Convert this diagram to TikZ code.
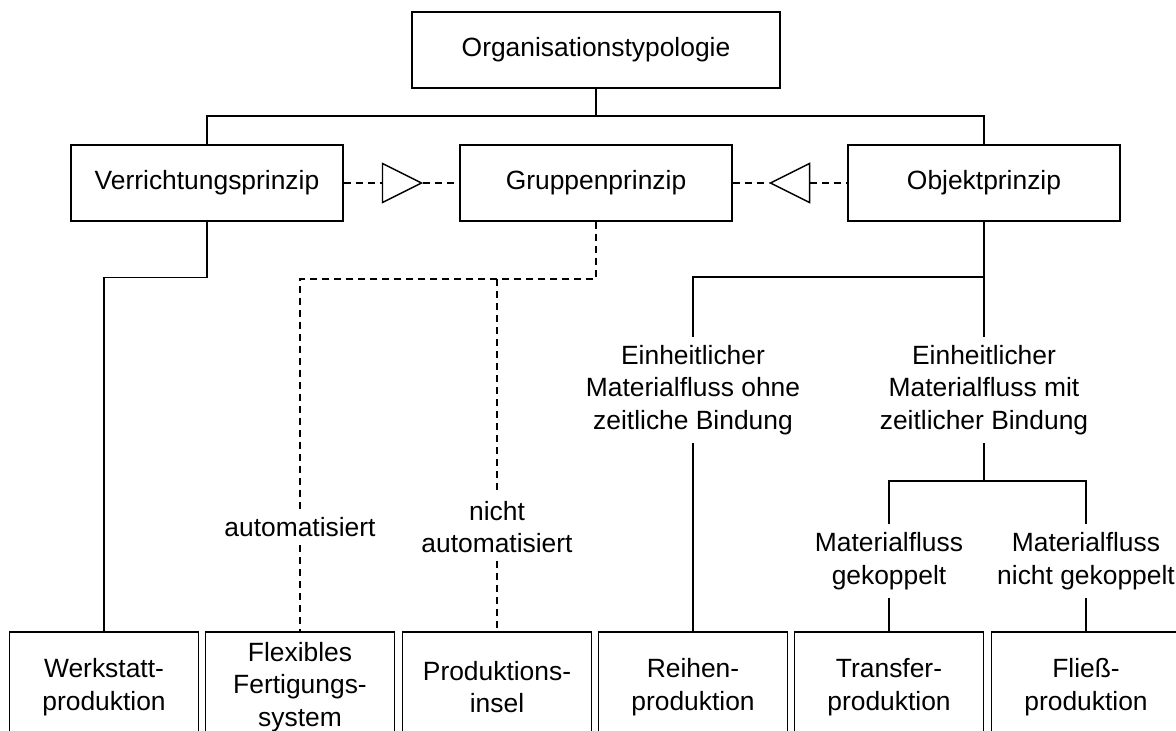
\documentclass[tikz,border=0pt]{standalone}
\usepackage{fontspec}
\setmainfont{Liberation Sans}
\usetikzlibrary{shapes.geometric, positioning, calc}
\tikzstyle{block} = [rectangle, draw=black, line width=1.4pt, minimum width=272pt, minimum height=76pt, text centered]
\tikzstyle{leaf} = [rectangle, draw=black, line width=1.4pt, minimum width=189pt, minimum height=110pt, align=center]
\tikzstyle{branch} = [align=center, inner xsep=0pt, inner ysep=8pt]
\tikzstyle{marker} = [isosceles triangle, isosceles triangle stretches, minimum width=39pt, minimum height=39pt, inner sep=0pt, draw=black, fill=white, line width=1.4pt]
\tikzstyle{link} = [line width=1.4pt]
\tikzstyle{dlink} = [line width=1.4pt, dash pattern=on 7pt off 5pt]

\begin{document}
\begin{tikzpicture}[x=1pt, y=-1pt, font=\fontsize{26.4}{32.5}\selectfont]
\useasboundingbox (0,0) rectangle (1176,731);
\clip (0,0) rectangle (1176,731);
% top levels
\node (orga) [block, minimum width=368pt] at (596,50) {Organisationstypologie};
\node (verr) [block] at (207,183) {Verrichtungsprinzip};
\node (grp) [block] at (596,183) {Gruppenprinzip};
\node (obj) [block] at (984,183) {Objektprinzip};
\node (tri1) [marker] at (394.5,183) {};
\node (tri2) [marker, shape border rotate=180] at (797.5,183) {};
% branch labels
\node (auto) [branch] at (300,527) {automatisiert};
\node (nauto) [branch] at (497,527) {nicht\\automatisiert};
\node (ohne) [branch] at (693,390) {Einheitlicher\\Materialfluss ohne\\zeitliche Bindung};
\node (mit) [branch] at (984,390) {Einheitlicher\\Materialfluss mit\\zeitlicher Bindung};
\node (gek) [branch] at (889,561) {Materialfluss\\gekoppelt};
\node (ngek) [branch] at (1086,561) {Materialfluss\\nicht gekoppelt};
% production types
\node (werk) [leaf] at (104,687) {Werkstatt-\\produktion};
\node (ffs) [leaf] at (300,687) {Flexibles\\Fertigungs-\\system};
\node (insel) [leaf] at (497,687) {Produktions-\\insel};
\node (reihe) [leaf] at (693,687) {Reihen-\\produktion};
\node (transfer) [leaf] at (889,687) {Transfer-\\produktion};
\node (fliess) [leaf] at (1086,687) {Fließ-\\produktion};
% connectors
\coordinate (hub) at (596,116);
\coordinate (gsplit) at (596,279);
\coordinate (osplit) at (984,277);
\coordinate (msplit) at (984,481);
\draw [link] (orga) -- (hub);
\draw [link] (verr.north) |- (hub) -| (obj.north);
\draw [dlink] (verr) -- (tri1);
\draw [dlink] (tri1) -- (grp);
\draw [dlink] (grp) -- (tri2);
\draw [dlink] (tri2) -- (obj);
\draw [link] (verr.south) -- ++(0,56) -| (werk.north);
\draw [dlink] (grp.south) -- (gsplit) -| (auto.north);
\draw [dlink] (gsplit -| nauto.north) -- (nauto.north);
\draw [dlink] (auto) -- (ffs);
\draw [dlink] (nauto) -- (insel);
\draw [link] (obj.south) -- (osplit) -| (ohne.north);
\draw [link] (osplit) -- (mit.north);
\draw [link] (ohne) -- (reihe);
\draw [link] (mit.south) -- (msplit) -| (gek.north);
\draw [link] (msplit) -| (ngek.north);
\draw [link] (gek) -- (transfer);
\draw [link] (ngek) -- (fliess);
\end{tikzpicture}
\end{document}
